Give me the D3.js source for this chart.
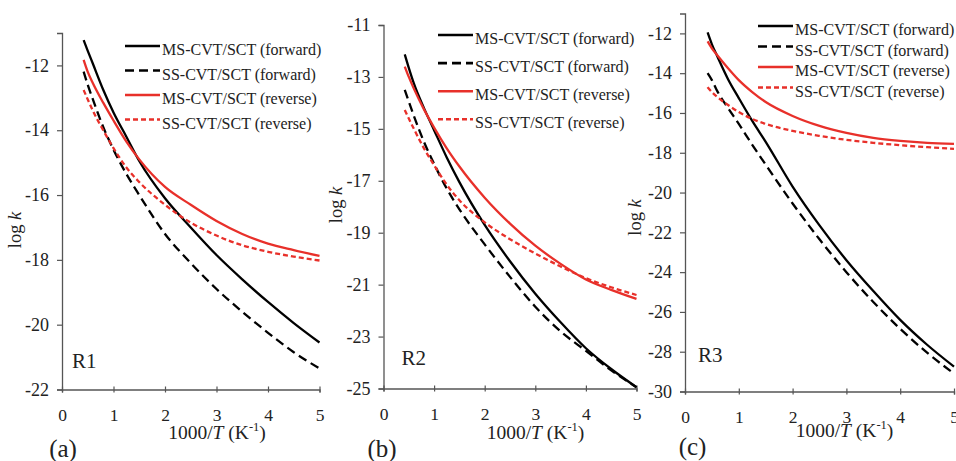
<!DOCTYPE html>
<html>
<head>
<meta charset="utf-8">
<script src="https://cdn.jsdelivr.net/npm/d3@7/dist/d3.min.js"></script>
<style>
  html, body { margin: 0; padding: 0; background: #fff; }
  svg text { font-family: "Liberation Serif", "Tinos", "Times New Roman", "DejaVu Serif", serif; }
</style>
</head>
<body>
<svg id="chart" width="956" height="461"></svg>
<script>
// ---------- data ----------
const seriesNames = ["MS-CVT/SCT (forward)", "SS-CVT/SCT (forward)", "MS-CVT/SCT (reverse)", "SS-CVT/SCT (reverse)"];
const xTicks = [0, 1, 2, 3, 4, 5];
const xValues = [0.42, 0.5, 0.6, 0.8, 1.0, 1.25, 1.5, 2.0, 2.5, 3.0, 3.5, 4.0, 4.5, 5.0];

// R1
const r1MSforward = [-11.22, -11.55, -11.95, -12.75, -13.45, -14.2, -14.95, -16.1, -17.0, -17.85, -18.6, -19.3, -19.95, -20.55];
const r1SSforward = [-12.19, -12.6, -13.05, -13.9, -14.6, -15.35, -16.0, -17.2, -18.1, -18.9, -19.6, -20.25, -20.85, -21.35];
const r1MSreverse = [-11.83, -12.2, -12.55, -13.15, -13.7, -14.35, -14.9, -15.75, -16.3, -16.8, -17.2, -17.5, -17.7, -17.88];
const r1SSreverse = [-12.76, -13.05, -13.4, -14.0, -14.55, -15.15, -15.6, -16.3, -16.85, -17.25, -17.55, -17.75, -17.9, -18.02];
const r1YTicks = [-22, -20, -18, -16, -14, -12];

// R2
const r2MSforward = [-12.13, -12.65, -13.25, -14.2, -15.05, -16.1, -17.05, -18.7, -20.1, -21.35, -22.45, -23.45, -24.25, -24.95];
const r2SSforward = [-13.5, -13.95, -14.5, -15.5, -16.35, -17.3, -18.1, -19.45, -20.7, -21.85, -22.8, -23.55, -24.3, -24.95];
const r2MSreverse = [-12.6, -13.0, -13.45, -14.25, -14.95, -15.75, -16.45, -17.65, -18.65, -19.5, -20.2, -20.8, -21.2, -21.55];
const r2SSreverse = [-14.27, -14.6, -15.0, -15.75, -16.4, -17.15, -17.75, -18.6, -19.25, -19.8, -20.3, -20.75, -21.1, -21.4];
const r2YTicks = [-25, -23, -21, -19, -17, -15, -13, -11];

// R3
const r3MSforward = [-11.95, -12.55, -13.15, -14.3, -15.25, -16.4, -17.45, -19.7, -21.65, -23.4, -24.95, -26.4, -27.65, -28.75];
const r3SSforward = [-14.0, -14.35, -14.9, -15.75, -16.55, -17.6, -18.6, -20.55, -22.35, -24.0, -25.5, -26.85, -28.05, -29.1];
const r3MSreverse = [-12.4, -12.75, -13.1, -13.75, -14.35, -14.95, -15.45, -16.15, -16.65, -17.0, -17.25, -17.4, -17.5, -17.55];
const r3SSreverse = [-14.7, -14.95, -15.2, -15.6, -15.95, -16.3, -16.55, -16.9, -17.15, -17.35, -17.5, -17.62, -17.72, -17.8];
const r3YTicks = [-30, -28, -26, -24, -22, -20, -18, -16, -14, -12];

const panelLabels = ["(a)", "(b)", "(c)"];
const reactionLabels = ["R1", "R2", "R3"];

// ---------- styling / layout ----------
const FONT = "'Liberation Serif', Tinos, 'Times New Roman', 'DejaVu Serif', serif";
const RED = "#e8302a";
const styles = [
  { color: "#000", dash: null },
  { color: "#000", dash: "9,5" },
  { color: RED, dash: null },
  { color: RED, dash: "5,3" }
];

const panels = [
  { series: [r1MSforward, r1SSforward, r1MSreverse, r1SSreverse], yDomain: [-22, -11], yTicks: r1YTicks,
    x0: 62, x1: 319.5, yB: 389.5, yT: 33,
    legX: 125, legY: 46, legStep: 24.5, tag: [63, 456.5], rx: [72, 368], ylab: [21, 230], xlab: [217, 438.5] },
  { series: [r2MSforward, r2SSforward, r2MSreverse, r2SSreverse], yDomain: [-25, -11], yTicks: r2YTicks,
    x0: 383.5, x1: 636.5, yB: 388.5, yT: 25,
    legX: 438, legY: 35, legStep: 28.1, tag: [382, 456.5], rx: [401.5, 365], ylab: [342, 205], xlab: [535.5, 438.5] },
  { series: [r3MSforward, r3SSforward, r3MSreverse, r3SSreverse], yDomain: [-30, -11], yTicks: r3YTicks,
    x0: 685, x1: 954, yB: 391.5, yT: 13.5,
    legX: 758, legY: 26, legStep: 20.5, tag: [692.5, 455], rx: [698, 362], ylab: [641, 217.5], xlab: [844.5, 437] }
];

const svg = d3.select("#chart");
const AXIS = "#555";

panels.forEach((p, pi) => {
  const x = d3.scaleLinear().domain([0, 5]).range([p.x0, p.x1]);
  const y = d3.scaleLinear().domain(p.yDomain).range([p.yB, p.yT]);
  const g = svg.append("g");

  // y axis
  const ya = g.append("g").attr("transform", `translate(${p.x0},0)`)
    .call(d3.axisLeft(y).tickValues(p.yTicks).tickSize(5).tickPadding(8).tickFormat(d3.format("d")));
  ya.attr("font-family", FONT);
  ya.select(".domain").attr("stroke", AXIS).attr("stroke-width", 1.3);
  ya.selectAll(".tick line").attr("stroke", AXIS).attr("stroke-width", 1.2);
  ya.selectAll(".tick text").attr("fill", "#222").attr("font-family", FONT).style("font-size", "18px")
    .text(d => "-" + Math.abs(d));

  // x axis
  const xa = g.append("g").attr("transform", `translate(0,${p.yB})`)
    .call(d3.axisBottom(x).tickValues(xTicks).tickSize(3).tickPadding(16).tickFormat(d3.format("d")));
  xa.attr("font-family", FONT);
  xa.select(".domain").attr("stroke", AXIS).attr("stroke-width", 1.3);
  xa.selectAll(".tick line").attr("stroke", AXIS).attr("stroke-width", 1.2).attr("y1", -3).attr("y2", 3);
  xa.selectAll(".tick text").attr("fill", "#222").attr("font-family", FONT).style("font-size", "17.5px");

  // curves
  const line = d3.line().x((d, i) => x(xValues[i])).y(d => y(d)).curve(d3.curveMonotoneX);
  p.series.forEach((s, si) => {
    g.append("path").datum(s)
      .attr("d", line)
      .attr("fill", "none")
      .attr("stroke", styles[si].color)
      .attr("stroke-width", 2.3)
      .attr("stroke-dasharray", styles[si].dash);
  });

  // legend
  seriesNames.forEach((name, si) => {
    const ly = p.legY + si * p.legStep;
    g.append("line").attr("x1", p.legX).attr("x2", p.legX + 35).attr("y1", ly).attr("y2", ly)
      .attr("stroke", styles[si].color).attr("stroke-width", 2.6)
      .attr("stroke-dasharray", styles[si].dash);
    g.append("text").attr("x", p.legX + 37).attr("y", ly + 9).attr("font-family", FONT)
      .attr("fill", "#222").style("font-size", "16px").text(name);
  });

  // reaction label
  g.append("text").attr("x", p.rx[0]).attr("y", p.rx[1]).attr("fill", "#222").attr("font-family", FONT)
    .style("font-size", "21px").text(reactionLabels[pi]);

  // y axis title
  const yl = g.append("text").attr("transform", `translate(${p.ylab[0]},${p.ylab[1]}) rotate(-90)`)
    .attr("text-anchor", "middle").attr("fill", "#222").attr("font-family", FONT).style("font-size", "18.5px");
  yl.append("tspan").text("log ");
  yl.append("tspan").style("font-style", "italic").text("k");

  // x axis title
  const xl = g.append("text").attr("x", p.xlab[0]).attr("y", p.xlab[1]).attr("font-family", FONT)
    .attr("text-anchor", "middle").attr("fill", "#222").style("font-size", "19.5px");
  xl.append("tspan").text("1000/");
  xl.append("tspan").style("font-style", "italic").text("T");
  xl.append("tspan").text(" (K");
  xl.append("tspan").attr("dy", -8).style("font-size", "12.5px").text("-1");
  xl.append("tspan").attr("dy", 8).text(")");

  // panel tag
  g.append("text").attr("x", p.tag[0]).attr("y", p.tag[1]).attr("text-anchor", "middle").attr("font-family", FONT)
    .attr("fill", "#222").style("font-size", "25px").text(panelLabels[pi]);
});
</script>
</body>
</html>
